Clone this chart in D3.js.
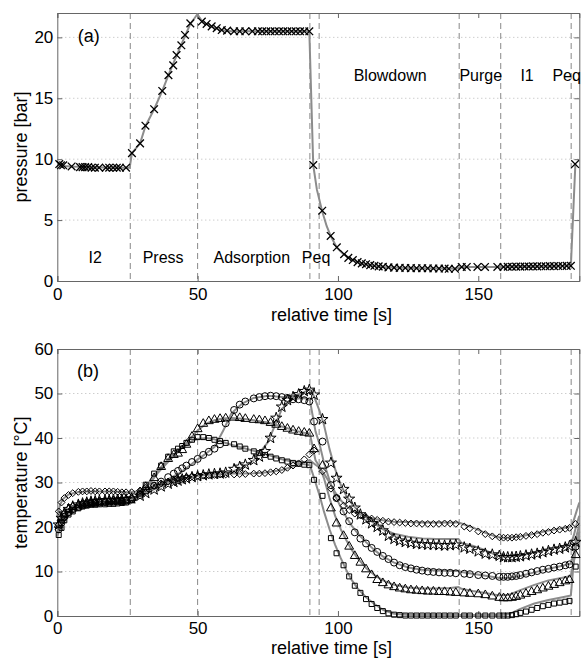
<!DOCTYPE html>
<html>
<head>
<meta charset="utf-8">
<script src="https://cdn.jsdelivr.net/npm/d3@7"></script>
<style>
  body { margin: 0; background: #fff; }
  svg text { font-family: "Liberation Sans", Arial, Helvetica, sans-serif; fill: #000; }
</style>
</head>
<body>
<div class="chart"></div>
<script>
// ---- phase boundaries (s) ----
var phaseTimes = [26, 50, 90, 93.3, 143.2, 158, 183.1];
var phaseNames = ["I2", "Press", "Adsorption", "Peq", "Blowdown", "Purge", "I1", "Peq"];
var phaseNameT = [13.5, 37.7, 69.3, 92.2, 118.6, 150.9, 167.4, 181.5];
var phaseNameP = [1.5, 1.5, 1.5, 1.5, 16.4, 16.4, 16.4, 16.4];

// ---- ticks ----
var xTicks = [0, 50, 100, 150];
var pTicks = [0, 5, 10, 15, 20];
var tempTicks = [0, 10, 20, 30, 40, 50, 60];

// ---- (a) measured pressure [bar] ----
var tP = [0.7, 1.3, 2.1, 5.1, 8.1, 9.0, 9.9, 11.0, 12.2, 13.4, 14.9, 17.3, 18.5, 19.9, 21.2, 22.3, 24.5,
  26.6, 29.5, 31.4, 34.5, 37.4, 39.6, 41.3, 42.5, 44.2, 45.5, 47.4,
  51.5, 53.2, 55, 56.8, 58.6, 60.5, 63, 65, 67, 69.5, 71.5, 73, 74.5, 76, 77.5, 79, 80.5, 82, 83.5, 85, 86.5, 88, 89.8,
  91.2, 94.4, 97.4, 99.6, 102.2, 103.7, 105.3, 107, 108.5, 110, 111.5, 113, 114.5, 116, 118, 120, 122, 124, 126, 128, 130, 132, 134, 136, 138, 139.5, 141.7,
  144.1, 145.9, 149.7, 152.4, 156.8,
  159, 160.5, 162, 163.5, 165, 166.5, 168, 169.5, 171, 172.5, 174, 175.5, 177, 178.5, 180, 181.5, 183,
  184.5];
var pMeas = [9.6, 9.5, 9.5, 9.4, 9.35, 9.35, 9.35, 9.35, 9.3, 9.3, 9.3, 9.3, 9.3, 9.3, 9.3, 9.3, 9.3,
  10.5, 11.3, 12.75, 14.1, 15.6, 16.9, 17.7, 18.55, 19.35, 20.2, 21.15,
  21.3, 21.1, 20.9, 20.75, 20.6, 20.55, 20.5, 20.5, 20.5, 20.5, 20.5, 20.5, 20.5, 20.5, 20.5, 20.5, 20.5, 20.5, 20.5, 20.5, 20.5, 20.5, 20.5,
  9.52, 5.77, 3.7, 2.77, 2.2, 1.9, 1.72, 1.55, 1.45, 1.38, 1.3, 1.25, 1.2, 1.17, 1.12, 1.1, 1.08, 1.07, 1.06, 1.05, 1.05, 1.04, 1.03, 1.02, 1.02, 1.0, 1.0,
  1.15, 1.15, 1.15, 1.15, 1.15,
  1.15, 1.17, 1.17, 1.18, 1.18, 1.19, 1.19, 1.2, 1.2, 1.21, 1.21, 1.22, 1.22, 1.23, 1.23, 1.24, 1.25,
  9.6];

// ---- (a) simulated pressure [bar] ----
var tPs = [0, 2, 5, 10, 20, 25.8, 26.6, 29.5, 31.4, 34.5, 37.4, 39.6, 42.5, 45.5, 47.4, 49.9, 52, 55, 58, 62,
  89.8, 91.2, 92.5, 94.4, 96, 97.4, 99.6, 102, 105, 108, 112, 116, 120, 130, 140, 142, 143.5, 145, 158, 170, 183, 184.6];
var pSim = [9.55, 9.45, 9.4, 9.35, 9.3, 9.3, 10.5, 11.3, 12.7, 14.1, 15.6, 16.9, 18.5, 20.1, 21.1, 21.9, 21.2, 20.9, 20.6, 20.5,
  20.5, 9.5, 7.5, 5.7, 4.5, 3.7, 2.75, 2.2, 1.75, 1.45, 1.25, 1.15, 1.1, 1.05, 1.02, 1.0, 1.1, 1.15, 1.15, 1.2, 1.25, 9.6];

// ---- (b) measured temperatures [°C] ----
var tT = [0.5, 1.5, 2.5, 4, 5.5, 7.5, 9, 10.5, 12, 13.5,
  15, 17, 18.5, 20, 21.5, 23, 24.5, 26.5, 29.5, 31.5,
  34.5, 37, 39.5, 41.5, 43, 44.5, 46, 48, 50, 52,
  54, 56, 58, 60, 63, 65, 67, 70, 72, 74,
  76, 78, 80, 82, 84, 86, 88, 89.8, 91.5, 94.5,
  97.5, 99.5, 102, 104, 106, 108, 110, 112, 114, 116,
  118, 120, 122, 124, 126, 128, 130, 132, 134, 136,
  138, 140, 142, 145, 147, 150, 152.5, 155, 157.5, 159,
  160.5, 162, 163.5, 165, 167, 169, 171, 173, 175, 177,
  179, 181, 182.5, 184.7];
var tempDiamond = [23.5, 25.5, 26.5, 27.2, 27.6, 27.9, 28, 28, 28.1, 28,
  28, 28, 28, 28, 27.9, 27.8, 27.8, 27.8, 28.2, 28.8,
  29.3, 29.8, 30.2, 30.5, 30.8, 31, 31.2, 31.4, 31.5, 31.6,
  31.6, 31.7, 31.8, 31.8, 31.8, 31.9, 31.9, 32, 32, 32.1,
  32.3, 32.5, 32.8, 33.3, 33.8, 34.3, 35.2, 36.3, 37.2, 32.5,
  28.6, 26.5, 24.8, 23.8, 23, 22.6, 22.2, 21.9, 21.6, 21.4,
  21.2, 21.1, 21, 20.9, 20.8, 20.8, 20.7, 20.7, 20.7, 20.7,
  20.8, 20.8, 20.7, 20.1, 19.7, 19, 18.4, 17.9, 17.7, 17.6,
  17.6, 17.6, 17.7, 17.8, 18, 18.2, 18.4, 18.7, 18.9, 19.2,
  19.4, 19.6, 19.8, 20.7];
var tempStar = [20.5, 22, 23, 24, 24.6, 25, 25.3, 25.5, 25.7, 25.8,
  25.9, 26, 26, 26.1, 26.1, 26.2, 26.2, 26.4, 27, 27.6,
  28.4, 29.1, 29.7, 30.1, 30.4, 30.7, 30.9, 31.2, 31.4, 31.6,
  31.8, 31.9, 32, 32.2, 33, 33.5, 34, 35, 35.8, 37,
  40, 44.5, 47, 48.5, 49.2, 49.8, 50.5, 50.8, 49.7, 44.2,
  34.4, 31, 28.5, 26.3, 24.3, 22.8, 21.7, 20.8, 20, 19.2,
  18, 17.3, 16.9, 16.6, 16.4, 16.2, 16.1, 16, 16, 15.9,
  15.8, 15.9, 16, 15.4, 15.1, 14.5, 14, 13.8, 13.5, 13.2,
  13.2, 13.2, 13.3, 13.4, 13.6, 13.8, 14, 14.3, 14.6, 14.9,
  15.1, 15.4, 15.7, 16.6];
var tempCircle = [19.5, 21, 22.3, 23.3, 24, 24.5, 24.9, 25.1, 25.3, 25.4,
  25.5, 25.6, 25.7, 25.7, 25.8, 25.8, 25.9, 26.2, 27.2, 28.2,
  29.3, 30.2, 31.2, 32, 32.6, 33.2, 33.8, 34.6, 35.3, 36.2,
  36.9, 37.6, 38.6, 43.3, 46.3, 47.5, 48.2, 48.9, 49.2, 49.4,
  49.5, 49.4, 49.2, 49, 48.7, 48.7, 48.5, 48.2, 43.7, 39.2,
  29.4, 26.5, 23.5, 21.3, 18.8, 17.4, 16.3, 15.3, 14.4, 13.5,
  12.8, 12, 11.4, 11, 10.7, 10.4, 10.2, 10, 9.9, 9.8,
  9.7, 9.7, 9.6, 9.5, 9.4, 9.2, 9.1, 9, 8.8, 8.8,
  8.8, 8.9, 9, 9.2, 9.5, 9.8, 10.1, 10.4, 10.6, 10.9,
  11.1, 11.4, 11.6, 15.6];
var tempTriangle = [20.5, 22, 23, 24, 24.5, 24.9, 25.1, 25.3, 25.4, 25.5,
  25.6, 25.7, 25.8, 25.8, 25.9, 25.9, 26, 26.5, 27.8, 29,
  31, 33.5, 35.3, 36.2, 36.5, 37.3, 38.5, 40.3, 42, 43.2,
  43.8, 44.1, 44.3, 44.4, 44.6, 44.5, 44.3, 44.1, 44, 43.8,
  43.4, 43, 42.5, 42.1, 41.7, 41.4, 41.2, 41, 37.5, 33.8,
  24.2, 20.8, 18, 15.6, 13.5, 12, 10.5, 9.2, 8.1, 7.4,
  6.9, 6.5, 6.2, 6, 5.8, 5.7, 5.6, 5.5, 5.5, 5.4,
  5.4, 5.3, 5.2, 5.1, 5, 4.9, 4.7, 4.4, 4.1, 4,
  4, 4.1, 4.3, 4.6, 5, 5.4, 5.8, 6.2, 6.6, 7,
  7.4, 7.8, 8.1, 13.7];
var tempSquare = [18.2, 19.8, 21.5, 22.8, 23.5, 24.2, 24.6, 24.8, 25, 25,
  25.1, 25.1, 25.2, 25.2, 25.3, 25.4, 25.5, 26, 27.5, 29.5,
  32, 33.8, 35.8, 37, 37.6, 38.2, 38.9, 39.6, 40.2, 40.2,
  40, 39.6, 39.3, 38.9, 38.6, 38.1, 37.6, 37, 36.6, 36.2,
  35.8, 35.4, 35, 34.7, 34.4, 34.2, 34, 33.9, 30.6, 27,
  17.5, 14.1, 11.4, 8.9, 6.8, 5.2, 3.8, 2.7, 1.8, 1.1,
  0.6, 0.3, 0.2, 0.1, 0.1, 0.1, 0.1, 0.1, 0.1, 0.1,
  0.1, 0.1, 0.1, 0.1, 0.1, 0.1, 0.1, 0.1, 0.1, 0.1,
  0.1, 0.2, 0.4, 0.7, 1, 1.4, 1.8, 2.2, 2.5, 2.8,
  3, 3.2, 3.4, 11.1];

// ---- (b) simulated temperatures [°C] ----
var tSim = [0, 1, 2, 4, 7, 10, 15, 20, 26, 28,
  30, 33, 36, 40, 44, 48, 50, 53, 56, 59,
  62, 66, 70, 75, 80, 85, 88, 90, 91, 92,
  93.5, 95, 97, 99, 101, 103, 105, 107, 110, 113,
  116, 120, 125, 130, 135, 140, 143, 144, 148, 152,
  156, 158, 161, 165, 170, 175, 180, 183, 184, 185,
  186];
var simDiamond = [22.5, 25, 26.3, 27.3, 27.8, 28, 28, 28, 27.8, 28,
  28.4, 29, 29.5, 30.2, 30.8, 31.3, 31.5, 31.7, 31.8, 31.9,
  32, 32, 32.1, 32.3, 32.8, 33.8, 34.5, 35, 34.5, 34,
  33.3, 32, 30, 27.8, 26, 24.7, 23.7, 23, 22.3, 21.8,
  21.5, 21.2, 21.1, 21, 21, 21, 21, 20.8, 19.9, 18.8,
  17.9, 17.6, 17.6, 17.9, 18.5, 19.2, 19.7, 20.1, 21.5, 23.5,
  25.5];
var simStar = [20, 21.8, 22.8, 24, 24.9, 25.4, 25.8, 26, 26.2, 26.6,
  27.2, 28.1, 28.9, 29.8, 30.6, 31.2, 31.5, 31.8, 32, 32.1,
  32.3, 33.4, 35, 39, 46.5, 49.6, 50.3, 51, 50, 48.5,
  46, 43, 37.5, 33, 29.5, 27, 25.2, 23.8, 22.2, 20.8,
  19.5, 18.5, 17.8, 17.4, 17.3, 17.3, 17.3, 16.4, 15.8, 14.9,
  13.8, 13.3, 13.3, 13.6, 14.3, 15, 15.6, 16.2, 18, 20.5,
  22.5];
var simCircle = [19, 20.8, 22, 23.3, 24.4, 25, 25.4, 25.6, 25.9, 26.4,
  27.3, 28.5, 29.6, 30.9, 32.3, 34.2, 35.2, 36.5, 38, 41.5,
  45.5, 47.8, 49, 49.5, 49.2, 48.8, 49, 48.5, 45, 41.5,
  38.5, 34.5, 30.5, 27, 24.5, 22.2, 20.2, 18.6, 16.6, 14.8,
  13.4, 12, 10.9, 10.4, 10.2, 10.1, 10.1, 9.9, 9.5, 9.1,
  8.7, 8.5, 8.6, 9, 9.8, 10.6, 11.3, 11.8, 14, 18,
  20.5];
var simTriangle = [20, 21.5, 22.6, 23.8, 24.7, 25.1, 25.4, 25.7, 25.9, 26.6,
  27.7, 29.8, 32.3, 35, 37.5, 40.3, 41.7, 43.2, 44, 44.4,
  44.5, 44.3, 44, 43.5, 42.6, 41.6, 41.2, 41, 38, 35,
  33.5, 31, 26.5, 22.5, 19.5, 17, 14.8, 13, 10.8, 9.2,
  8, 7, 6.4, 6.2, 6.2, 6.3, 6.5, 6.1, 5.6, 5.2,
  4.8, 4.6, 4.8, 5.8, 7, 8, 8.6, 9, 12, 16,
  19];
var simSquare = [18, 19.6, 21, 22.6, 23.9, 24.5, 24.9, 25.1, 25.4, 26.2,
  27.8, 30.3, 32.8, 35.5, 37.6, 39.3, 39.8, 40, 39.7, 39.1,
  38.5, 37.8, 37.1, 36.2, 35.2, 34.5, 34.1, 33.9, 32, 30,
  27, 23.5, 19.5, 16, 13, 10.3, 8, 6.2, 4.2, 2.7,
  1.4, 0.5, 0.2, 0.2, 0.2, 0.2, 0.2, 0.2, 0.2, 0.2,
  0.2, 0.2, 0.4, 1.6, 2.8, 3.6, 4.2, 4.6, 12, 16,
  18];

function init() {
  var w = 581;
  var h = 658;
  var left = 57.3;
  var right = 579.3;
  var gray = "#8c8c8c";
  var axisColor = "#666";

  // MATLAB-style diamond (equal width and height)
  var squareDiamond = {
    draw: function (context, size) {
      var r = Math.sqrt(size) / 2 * 1.25;
      context.moveTo(0, -r);
      context.lineTo(r, 0);
      context.lineTo(0, r);
      context.lineTo(-r, 0);
      context.closePath();
    }
  };

  var svg = d3.select(".chart")
    .append("svg")
    .attr("width", w)
    .attr("height", h);

  var xScale = d3.scaleLinear()
    .domain([0, 186])
    .range([left, right]);

  function drawPanel(top, bottom, yDomain, yTicks, yLabel, tag, tagPos, xPad, xLabelGap) {
    var yScale = d3.scaleLinear()
      .domain(yDomain)
      .range([bottom, top]);
    var g = svg.append("g");

    // horizontal dotted grid
    g.selectAll(".grid")
      .data(yTicks.filter(function (d) { return d > yDomain[0] && d < yDomain[1]; }))
      .enter()
      .append("line")
      .attr("x1", left)
      .attr("x2", right)
      .attr("y1", function (d) { return yScale(d); })
      .attr("y2", function (d) { return yScale(d); })
      .attr("stroke", "#b8b8b8")
      .attr("stroke-width", 1)
      .attr("stroke-dasharray", "1,3");

    // phase separators
    g.selectAll(".phase")
      .data(phaseTimes)
      .enter()
      .append("line")
      .attr("x1", function (d) { return xScale(d); })
      .attr("x2", function (d) { return xScale(d); })
      .attr("y1", top)
      .attr("y2", bottom)
      .attr("stroke", "#888")
      .attr("stroke-width", 1)
      .attr("stroke-dasharray", "6,4");

    // axes: labelled bottom/left, plain ticks top/right, all pointing inward
    g.append("g")
      .attr("transform", "translate(0," + bottom + ")")
      .call(d3.axisBottom(xScale).tickValues(xTicks).tickSize(-5).tickPadding(xPad))
      .call(styleAxis);
    g.append("g")
      .attr("transform", "translate(0," + top + ")")
      .call(d3.axisTop(xScale).tickValues(xTicks).tickSize(-5).tickFormat(""))
      .call(styleAxis);
    g.append("g")
      .attr("transform", "translate(" + left + ",0)")
      .call(d3.axisLeft(yScale).tickValues(yTicks).tickSize(-5).tickPadding(4))
      .call(styleAxis);
    g.append("g")
      .attr("transform", "translate(" + right + ",0)")
      .call(d3.axisRight(yScale).tickValues(yTicks).tickSize(-5).tickFormat(""))
      .call(styleAxis);

    g.append("text")
      .attr("x", xScale(tagPos[0]))
      .attr("y", yScale(tagPos[1]))
      .style("font-size", "18px")
      .text(tag);

    g.append("text")
      .attr("x", 331.5)
      .attr("y", bottom + xLabelGap)
      .attr("text-anchor", "middle")
      .style("font-size", "18px")
      .text("relative time [s]");
    g.append("text")
      .attr("transform", "rotate(-90)")
      .attr("x", -(top + bottom) / 2)
      .attr("y", 26.5)
      .attr("text-anchor", "middle")
      .style("font-size", "18px")
      .text(yLabel);

    return { g: g, y: yScale };
  }

  function styleAxis(sel) {
    sel.select(".domain").attr("stroke", axisColor);
    sel.selectAll(".tick line").attr("stroke", axisColor);
    sel.selectAll(".tick text")
      .style("font-size", "17px")
      .attr("fill", "#000");
  }

  function drawLine(panel, xs, ys) {
    panel.g.append("path")
      .datum(d3.zip(xs, ys))
      .attr("fill", "none")
      .attr("stroke", gray)
      .attr("stroke-width", 2)
      .attr("stroke-linejoin", "round")
      .attr("d", d3.line()
        .x(function (d) { return xScale(d[0]); })
        .y(function (d) { return panel.y(d[1]); }));
  }

  function drawMarkers(panel, xs, ys, type, size, width) {
    panel.g.selectAll(null)
      .data(d3.zip(xs, ys))
      .enter()
      .append("path")
      .attr("transform", function (d) {
        return "translate(" + xScale(d[0]) + "," + panel.y(d[1]) + ")";
      })
      .attr("d", d3.symbol().type(type).size(size))
      .attr("fill", "none")
      .attr("stroke", "#000")
      .attr("stroke-width", width);
  }

  // ---- panel (a): pressure ----
  var pa = drawPanel(13, 281, [0, 22], pTicks, "pressure [bar]", "(a)", [7.3, 19.6], 7, 39.5);
  drawLine(pa, tPs, pSim);
  drawMarkers(pa, tP, pMeas, d3.symbolX, 40, 1.3);
  pa.g.selectAll(".phaseName")
    .data(phaseNames)
    .enter()
    .append("text")
    .attr("x", function (d, i) { return xScale(phaseNameT[i]); })
    .attr("y", function (d, i) { return pa.y(phaseNameP[i]); })
    .attr("text-anchor", "middle")
    .style("font-size", "16px")
    .text(function (d) { return d; });

  // ---- panel (b): temperatures ----
  var pb = drawPanel(349, 616, [0, 60], tempTicks, "temperature [°C]", "(b)", [7, 53.7], 6, 37.8);
  drawLine(pb, tSim, simDiamond);
  drawLine(pb, tSim, simStar);
  drawLine(pb, tSim, simCircle);
  drawLine(pb, tSim, simTriangle);
  drawLine(pb, tSim, simSquare);
  drawMarkers(pb, tT, tempDiamond, squareDiamond, 30, 1);
  drawMarkers(pb, tT, tempStar, d3.symbolStar, 38, 1);
  drawMarkers(pb, tT, tempCircle, d3.symbolCircle, 38, 1);
  drawMarkers(pb, tT, tempTriangle, d3.symbolTriangle, 34, 1);
  drawMarkers(pb, tT, tempSquare, d3.symbolSquare, 25, 1);
}
window.onload = init;
</script>
</body>
</html>
